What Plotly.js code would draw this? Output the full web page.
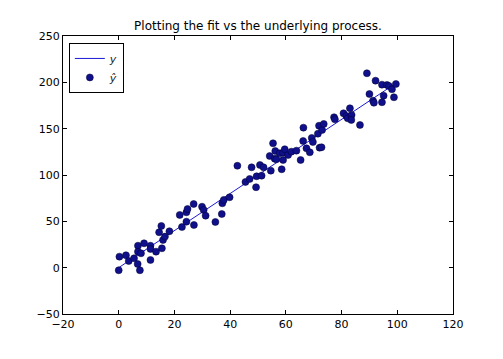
<!DOCTYPE html>
<html>
<head>
<meta charset="utf-8">
<script src="https://cdn.plot.ly/plotly-3.0.1.min.js"></script>
<style>html,body{margin:0;padding:0;background:#fff;}#chart{width:503px;height:359px;}</style>
</head>
<body>
<div id="chart"></div>
<script>
// underlying process
var lineX = [0, 100];
var lineY = [0, 200];
// observed points (x, y-hat)
var pointX = [0, 0.25, 2.6, 3.6, 5.5, 6.8, 7.6, 6.9, 6.9, 8.0, 9.1, 11.4, 11.4, 11.4, 13.4, 15.5, 14.5, 15.3, 15.9, 16.6,
  18.2, 21.9, 22.7, 24.3, 24.3, 24.7, 26.9, 27.0, 29.9, 30.5, 31.2, 34.7, 37.0, 37.2, 37.7, 39.8, 42.6, 45.5, 47.0, 47.7,
  49.3, 49.5, 50.7, 51.3, 52.0, 54.6, 54.2, 56.0, 56.2, 56.6, 55.4, 57.8, 59.0, 59.6, 59.0, 58.5, 60.8, 62.0, 63.8, 65.3,
  66.2, 66.3, 67.4, 68.6, 69.3, 69.7, 71.5, 71.9, 72.1, 72.8, 73.0, 73.6, 77.3, 77.6, 80.7, 81.7, 82.2, 83.0, 83.6, 83.5,
  86.6, 89.1, 90.0, 91.3, 91.6, 92.2, 94.5, 94.5, 95.1, 96.3, 97.0, 98.1, 98.8, 99.5];
var pointY = [-2.8, 11.9, 13.4, 7.2, 10.1, 4.0, -2.8, 23.7, 17.3, 15.5, 26.3, 23.7, 20.2, 8.3, 17.3, 20.9, 38.2, 45, 29.9, 33.5,
  39.3, 56.9, 43.9, 49.6, 59.8, 63.3, 68.7, 46.1, 65.8, 62.3, 56.1, 49.3, 57.9, 69.5, 73.1, 76.0, 110, 92.5, 95.7, 108.3,
  86.8, 98.6, 110.8, 99.3, 108.3, 104.7, 120.5, 117.6, 125.9, 117, 134.2, 123.4, 124.1, 127.8, 116.2, 106.2, 121.6, 125.2, 126.3, 116.2,
  136.7, 151.1, 128.8, 124.5, 140, 135.6, 144.6, 153.2, 129.5, 129.9, 148.6, 155.1, 162.3, 160.1, 166.6, 163.7, 161.2, 172, 164.8, 159.4,
  154, 209.8, 187.4, 180.2, 178, 201.8, 197.5, 178.5, 185.6, 197.2, 196.1, 192.5, 183.9, 198.2];
var xTicks = [-20, 0, 20, 40, 60, 80, 100, 120];
var yTicks = [-50, 0, 50, 100, 150, 200, 250];

var font = {family: 'DejaVu Sans, sans-serif', size: 11, color: '#000'};
var traces = [
  {x: lineX, y: lineY, mode: 'lines', name: '<i>y</i>', line: {color: '#1a1ad6', width: 1}},
  {x: pointX, y: pointY, mode: 'markers', name: '<i>ŷ</i>',
   marker: {color: '#10108c', size: 7, line: {color: '#000033', width: 0.5}}}
];
var axisCommon = {showline: true, linecolor: '#000', linewidth: 1, mirror: 'ticks', ticks: 'inside',
  ticklen: 4, tickcolor: '#000', showgrid: false, zeroline: false, tickfont: font};
var layout = {
  width: 503, height: 359,
  margin: {l: 63, r: 50, t: 36, b: 45},
  paper_bgcolor: '#fff', plot_bgcolor: '#fff',
  font: font,
  title: {text: 'Plotting the fit vs the underlying process.', font: {family: 'DejaVu Sans, sans-serif', size: 12, color: '#000'},
    x: 0.5, xref: 'paper', y: 1, yref: 'paper', yanchor: 'bottom', pad: {b: 6}},
  xaxis: Object.assign({range: [-20, 120], tickvals: xTicks, ticktext: xTicks.map(function(v){return v < 0 ? '\u2212' + Math.abs(v) : String(v);})}, axisCommon),
  yaxis: Object.assign({range: [-50, 250], tickvals: yTicks, ticktext: yTicks.map(function(v){return v < 0 ? '\u2212' + Math.abs(v) : String(v);})}, axisCommon),
  showlegend: true,
  legend: {x: 0.015, y: 0.975, xanchor: 'left', yanchor: 'top', bordercolor: '#000', borderwidth: 1, bgcolor: '#fff',
    font: {family: 'DejaVu Sans, sans-serif', size: 11, color: '#222'}, tracegroupgap: 2}
};
Plotly.newPlot('chart', traces, layout, {displayModeBar: false, staticPlot: true});
</script>
</body>
</html>
